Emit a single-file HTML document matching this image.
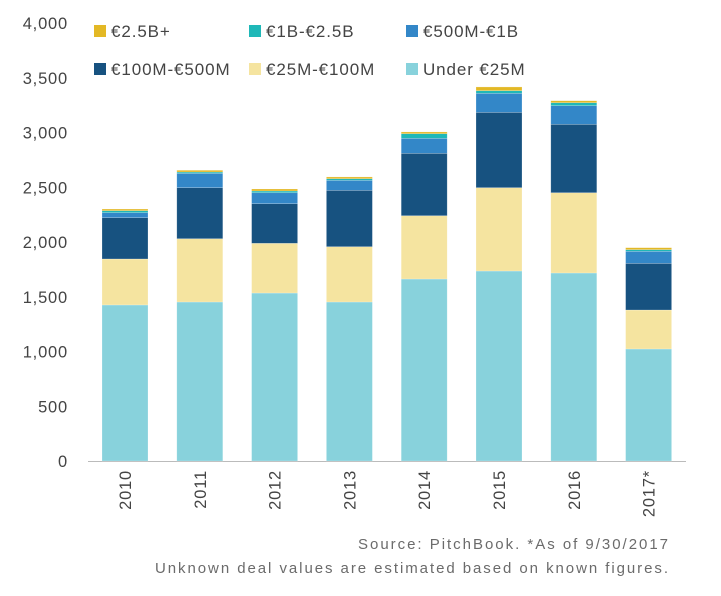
<!DOCTYPE html>
<html><head><meta charset="utf-8"><style>
body{margin:0;background:#fff;}
svg text{font-family:"Liberation Sans",sans-serif;}
</style></head><body>
<svg width="721" height="591" viewBox="0 0 721 591">
<g id="grid"></g><g id="bars"></g><g id="legend"></g>
<text x="358" y="549" textLength="310" lengthAdjust="spacing" font-size="15" fill="#6b6b6b">Source: PitchBook. *As of 9/30/2017</text>
<text x="155" y="573" textLength="513" lengthAdjust="spacing" font-size="15" fill="#6b6b6b">Unknown deal values are estimated based on known figures.</text>
</svg>
<script>
const categories=["2010","2011","2012","2013","2014","2015","2016","2017*"];
const under25M=[1425,1452,1534,1452,1662,1735,1717,1023];
const m25to100=[420,578,454,505,578,761,733,356];
const m100to500=[377,466,362,515,570,688,625,426];
const m500to1B=[46,131,100,91,137,174,170,110];
const b1to2_5=[18,12,16,15,42,24,27,15];
const b2_5plus=[15,16,18,16,16,34,18,18];
const yTicks=[0,500,1000,1500,2000,2500,3000,3500,4000];
const seriesNames=["Under €25M","€25M-€100M","€100M-€500M","€500M-€1B","€1B-€2.5B","€2.5B+"];
const series=[under25M,m25to100,m100to500,m500to1B,b1to2_5,b2_5plus];
const colors=["#88d2dc","#f5e4a0","#175280","#3387c8","#1fb8b8","#e3b825"];
const NS="http://www.w3.org/2000/svg";
const y0=461,yTop=23,maxV=4000;
function y(v){return y0-(v/maxV)*(y0-yTop);}
function x(i){return 102+i*74.8;}
const bw=46;
function mk(t,a,p){const e=document.createElementNS(NS,t);for(const k in a)e.setAttribute(k,a[k]);p.appendChild(e);return e;}
const grid=document.getElementById('grid');
yTicks.forEach(t=>{const e=mk('text',{x:68,y:y(t)+6,'text-anchor':'end','font-size':16.5,'letter-spacing':0.8,fill:'#444'},grid);e.textContent=t.toLocaleString('en-US');

});
const ax=mk('line',{x1:88,x2:686,y1:y0+0.5,y2:y0+0.5,stroke:'#bbb'},grid);


const bars=document.getElementById('bars');
categories.forEach((c,i)=>{let cum=0;
series.forEach((s,j)=>{const v=s[i];const r=mk('rect',{x:x(i),y:y(cum+v),width:bw,height:y(cum)-y(cum+v),fill:colors[j],stroke:'rgba(255,255,255,0.35)','stroke-width':0.6},bars);


cum+=v;});
const tx=x(i)+bw/2+6;const ty=470;
const t=mk('text',{x:tx,y:ty,'text-anchor':'end','font-size':16.5,'letter-spacing':0.8,fill:'#444',transform:`rotate(-90 ${tx} ${ty})`},bars);t.textContent=c;

});
const lg=document.getElementById('legend');
const lpos=[[94,25],[249,25],[406,25],[94,63],[249,63],[406,63]];
const order=[5,4,3,2,1,0];
order.forEach((si,k)=>{const [lx,ly]=lpos[k];const g=mk('g',{},lg);


mk('rect',{x:lx,y:ly,width:12,height:12,fill:colors[si]},g);
const t=mk('text',{x:lx+17,y:ly+12,'font-size':17,'letter-spacing':0.9,fill:'#444'},g);t.textContent=seriesNames[si];});
</script>
</body></html>
